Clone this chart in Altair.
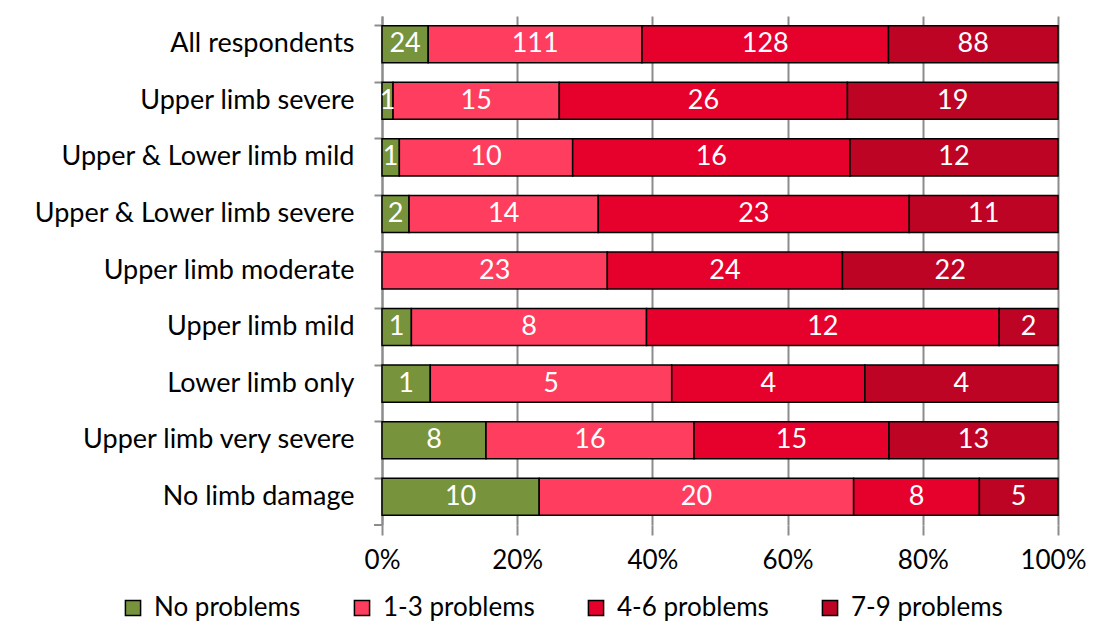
import altair as alt
import pandas as pd

groups = ["All respondents", "Upper limb severe", "Upper & Lower limb mild",
          "Upper & Lower limb severe", "Upper limb moderate", "Upper limb mild",
          "Lower limb only", "Upper limb very severe", "No limb damage"]
series = ["No problems", "1-3 problems", "4-6 problems", "7-9 problems"]
no_problems = [24, 1, 1, 2, 0, 1, 1, 8, 10]
p1_3 = [111, 15, 10, 14, 23, 8, 5, 16, 20]
p4_6 = [128, 26, 16, 23, 24, 12, 4, 15, 8]
p7_9 = [88, 19, 12, 11, 22, 2, 4, 13, 5]
colors = ["#77933C", "#FF3D5F", "#E6002C", "#BE0424"]
x_ticks = [0, 0.2, 0.4, 0.6, 0.8, 1.0]

rows = []
for gi, g in enumerate(groups):
    for si, (s, vals) in enumerate(zip(series, [no_problems, p1_3, p4_6, p7_9])):
        rows.append({"group": g, "series": s, "order": si, "value": vals[gi]})
df = pd.DataFrame(rows)

FONT = "Lato"
FS = 27
W, H = 676, 509

base = alt.Chart(df).transform_joinaggregate(
    total="sum(value)", groupby=["group"]
).transform_window(
    cum="sum(value)", sort=[alt.SortField("order")], groupby=["group"], frame=[None, 0]
).transform_calculate(
    end="datum.cum / datum.total",
    start="(datum.cum - datum.value) / datum.total",
    mid="(2*datum.cum - datum.value) / (2*datum.total)",
).transform_filter("datum.value > 0")

yenc = alt.Y("group:N", sort=groups,
             scale=alt.Scale(paddingInner=0.345, paddingOuter=0.1725),
             axis=alt.Axis(title=None, labelFontSize=FS, labelFont=FONT, labelColor="black",
                           domainColor="#8c8c8c", domainWidth=2, tickColor="#8c8c8c",
                           tickWidth=2, tickSize=8, bandPosition=0, labelPadding=20,
                           labelLimit=400))

bars = base.mark_bar(stroke="black", strokeWidth=1.5).encode(
    y=yenc,
    x=alt.X("start:Q", scale=alt.Scale(domain=[0, 1]),
            axis=alt.Axis(title=None, format=".0%", values=x_ticks, labelFontSize=26,
                          labelFont=FONT, labelColor="black", domain=False,
                          grid=True, gridColor="#8c8c8c", gridWidth=2,
                          tickColor="#8c8c8c", tickWidth=2, tickSize=10,
                          labelPadding=12, labelFlush=False,
                          labelOffset={"condition": {"test": "datum.value == 1", "value": -5},
                                       "value": 0})),
    x2="end:Q",
    color=alt.Color("series:N", sort=series,
                    scale=alt.Scale(domain=series, range=colors),
                    legend=alt.Legend(title=None, orient="none", direction="horizontal",
                                      legendX=-262, legendY=579, columns=4,
                                      labelFontSize=26, labelFont=FONT, labelColor="black",
                                      symbolType="square", symbolSize=230,
                                      symbolStrokeColor="black", symbolStrokeWidth=1.5,
                                      columnPadding=48, labelOffset=8)),
)

labels = base.mark_text(color="white", fontSize=FS, font=FONT).encode(
    y=alt.Y("group:N", sort=groups),
    x="mid:Q",
    text="value:Q",
)

bottom_tick = alt.Chart(pd.DataFrame({"a": [0]})).mark_rule(
    color="#8c8c8c", strokeWidth=2
).encode(x=alt.value(-8), x2=alt.value(0), y=alt.value(H))

chart = alt.layer(bars, labels, bottom_tick).properties(
    width=W, height=H, padding={"left": 374, "top": 8, "right": 30, "bottom": 96},
    autosize=alt.AutoSizeParams(type="none"),
).configure_view(stroke=None)

chart.save("out.html", embed_options={"renderer": "svg", "actions": False})
